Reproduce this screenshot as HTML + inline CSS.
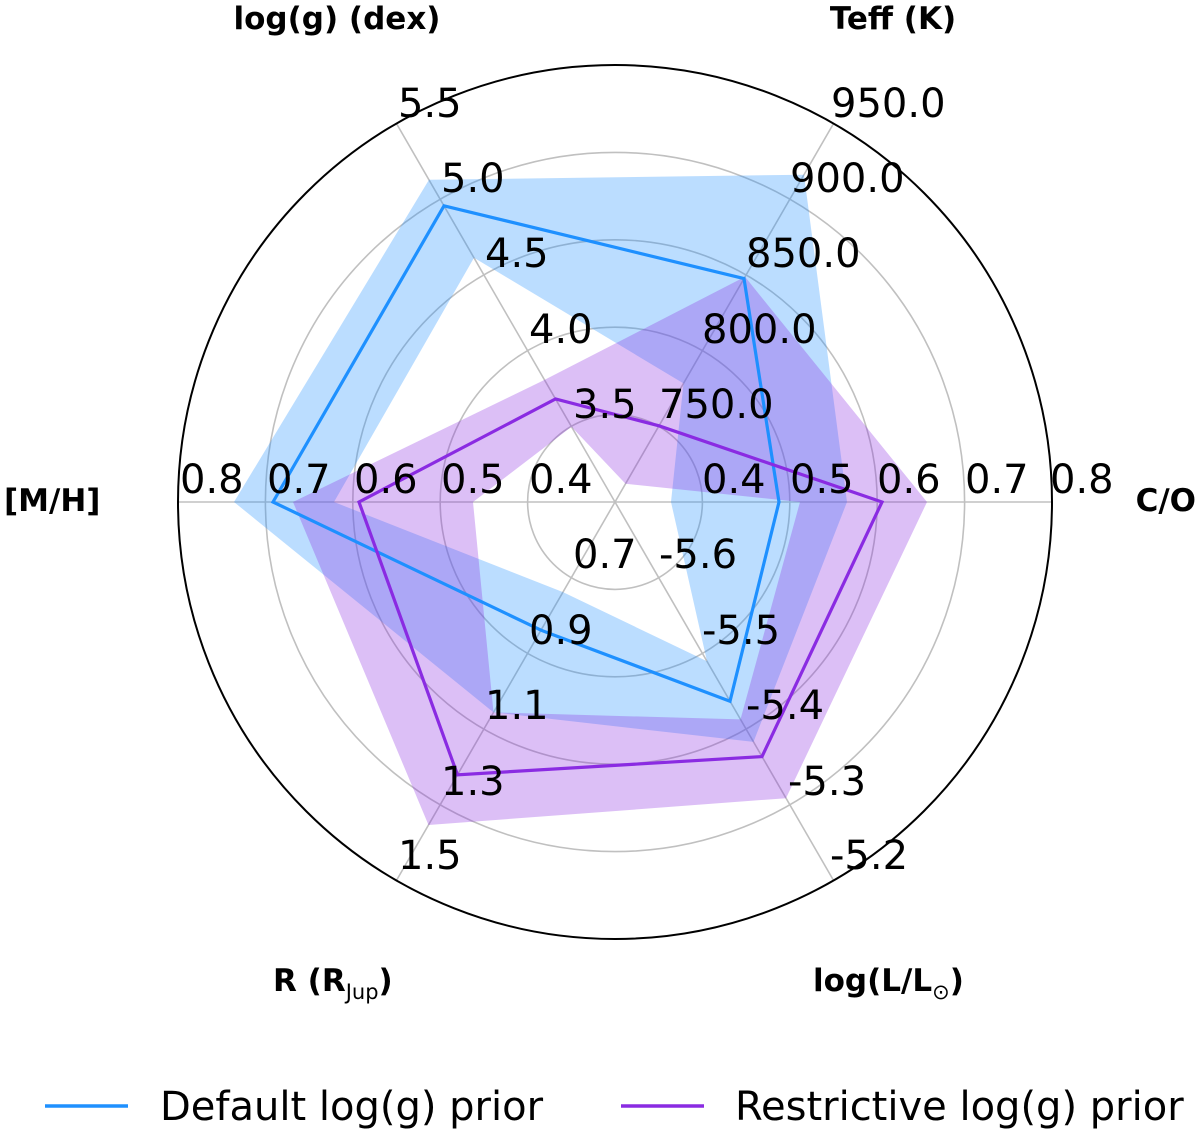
<!DOCTYPE html>
<html><head><meta charset="utf-8"><style>
html,body{margin:0;padding:0;background:#fff;}
svg{display:block;}
text{font-family:"DejaVu Sans","Liberation Sans",sans-serif;}
.t{font-size:40px;fill:#000;}
.a{font-size:31px;font-weight:bold;fill:#000;}
</style></head><body>
<svg width="1200" height="1133" viewBox="0 0 1200 1133" xmlns="http://www.w3.org/2000/svg">
<g fill="none" stroke="#c0c0c0" stroke-width="1.6">
<circle cx="615" cy="502" r="87.4"/>
<circle cx="615" cy="502" r="174.8"/>
<circle cx="615" cy="502" r="262.2"/>
<circle cx="615" cy="502" r="349.6"/>
<line x1="615" y1="502" x2="1052" y2="502"/>
<line x1="615" y1="502" x2="833.5" y2="123.6"/>
<line x1="615" y1="502" x2="396.5" y2="123.6"/>
<line x1="615" y1="502" x2="178" y2="502"/>
<line x1="615" y1="502" x2="396.5" y2="880.4"/>
<line x1="615" y1="502" x2="833.5" y2="880.4"/>
</g>
<path fill="rgba(30,144,255,0.3)" fill-rule="evenodd" d="M847,502 L804,174.7 L429,179.8 L234,502 L493.5,712.4 L753.5,741.9 Z M671,502 L683.5,383.4 L474,257.8 L334,502 L563,592.1 L707,661.3 Z"/>
<path fill="rgba(138,43,226,0.3)" fill-rule="evenodd" d="M927,502 L745,276.8 L544.5,379.9 L293,502 L428.5,825 L786,798.2 Z M800,502 L625.5,483.8 L571.5,426.7 L473,502 L493.5,712.4 L740.5,719.4 Z"/>
<polygon fill="none" stroke="#1e90ff" stroke-width="3.2" stroke-linejoin="miter" points="779,502 744,278.6 444,205.8 273,502 541,630.2 730,701.2"/>
<polygon fill="none" stroke="#8a2be2" stroke-width="3.2" stroke-linejoin="miter" points="882,502 659,425.8 555.5,399 359,502 457.5,774.8 762,756.6"/>
<circle cx="615" cy="502" r="437" fill="none" stroke="#000" stroke-width="2"/>
<g class="t">
<text x="702" y="493">0.4</text><text x="790" y="493">0.5</text><text x="877" y="493">0.6</text><text x="965" y="493">0.7</text><text x="1050" y="493">0.8</text>
<text x="659" y="418">750.0</text><text x="702" y="343">800.0</text><text x="746" y="267">850.0</text><text x="790" y="192">900.0</text><text x="831" y="117">950.0</text>
<text x="573" y="418">3.5</text><text x="529" y="343">4.0</text><text x="485" y="267">4.5</text><text x="441" y="192">5.0</text><text x="398" y="117">5.5</text>
<text x="529" y="493">0.4</text><text x="441" y="493">0.5</text><text x="354" y="493">0.6</text><text x="267" y="493">0.7</text><text x="180" y="493">0.8</text>
<text x="573" y="568">0.7</text><text x="529" y="644">0.9</text><text x="485" y="719">1.1</text><text x="441" y="795">1.3</text><text x="398" y="869">1.5</text>
<text x="659" y="568">-5.6</text><text x="702" y="644">-5.5</text><text x="746" y="719">-5.4</text><text x="788" y="795">-5.3</text><text x="830" y="869">-5.2</text>
</g>
<g class="a">
<text x="337" y="29" text-anchor="middle">log(g) (dex)</text>
<text x="893" y="29" text-anchor="middle">Teff (K)</text>
<text x="4" y="511">[M/H]</text>
<text x="1196" y="511" text-anchor="end">C/O</text>
<text x="273" y="991">R (R<tspan font-size="21" font-weight="normal" dy="8">Jup</tspan><tspan dy="-8">)</tspan></text>
<text x="813" y="991">log(L/L<tspan font-size="21" font-weight="normal" dy="8">⊙</tspan><tspan dy="-8">)</tspan></text>
</g>
<line x1="45" y1="1106" x2="128" y2="1106" stroke="#1e90ff" stroke-width="3.5"/>
<line x1="621" y1="1106" x2="704" y2="1106" stroke="#8a2be2" stroke-width="3.5"/>
<text class="t" x="160" y="1120">Default log(g) prior</text>
<text class="t" x="735" y="1120">Restrictive log(g) prior</text>
</svg>
</body></html>
